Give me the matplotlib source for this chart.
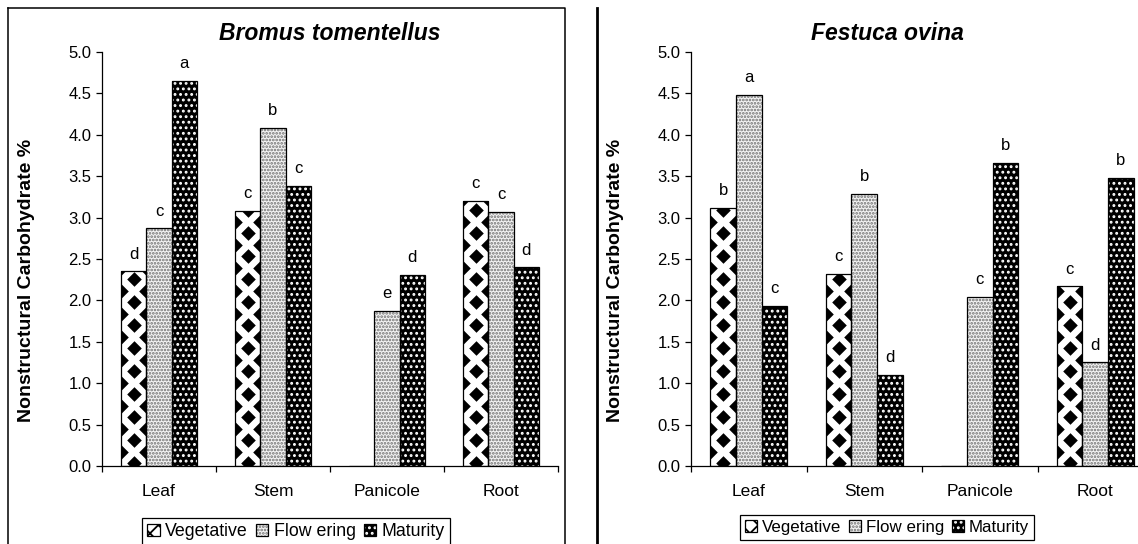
import numpy as np
import matplotlib
matplotlib.use("Agg")
import matplotlib.pyplot as plt
from matplotlib.path import Path
from matplotlib.patches import Patch
from matplotlib.lines import Line2D
from matplotlib.legend_handler import HandlerTuple


# === DATA ===
categories = ['Leaf', 'Stem', 'Panicole', 'Root']
stages = ['Vegetative', 'Flow ering', 'Maturity']

bromus_veg = [2.35, 3.08, 0.0, 3.20]
bromus_flow = [2.87, 4.08, 1.87, 3.07]
bromus_mat = [4.65, 3.38, 2.31, 2.40]
bromus_veg_sig = ['d', 'c', '', 'c']
bromus_flow_sig = ['c', 'b', 'e', 'c']
bromus_mat_sig = ['a', 'c', 'd', 'd']

festuca_veg = [3.12, 2.32, 0.0, 2.17]
festuca_flow = [4.48, 3.29, 2.04, 1.25]
festuca_mat = [1.93, 1.10, 3.66, 3.48]
festuca_veg_sig = ['b', 'c', '', 'c']
festuca_flow_sig = ['a', 'b', 'c', 'd']
festuca_mat_sig = ['c', 'd', 'b', 'b']

y_ticks = [0.0, 0.5, 1.0, 1.5, 2.0, 2.5, 3.0, 3.5, 4.0, 4.5, 5.0]

# === STYLE ===
FONT = 'Liberation Sans'
plt.rcParams['font.family'] = [FONT, 'DejaVu Sans']
plt.rcParams['hatch.linewidth'] = 1.3

BAR_W = 1 / 4.5
DIAMOND = Path([(0, 1), (1, 0), (0, -1), (-1, 0), (0, 1)],
               [Path.MOVETO, Path.LINETO, Path.LINETO, Path.LINETO, Path.CLOSEPOLY])
PITCH = 0.278      # vertical repeat of the diamond pattern (data units)

# fill style per stage: (face, hatch, hatch colour)
STAGE_STYLE = [
    ('white', None, 'white'),
    ('#f4f4f4', '.....', '#707070'),
    ('black', '...', 'white'),
]


def diamond_fill(ax, rect, x0, w, top):
    # checker of black diamonds inside a vegetative bar, clipped to it
    rows = np.arange(0, top + PITCH, PITCH)
    xs = np.concatenate([np.full(rows.size, x0 + w / 2),
                         np.full(rows.size, x0), np.full(rows.size, x0 + w)])
    ys = np.concatenate([rows + 0.12 * PITCH, rows + 0.62 * PITCH, rows + 0.62 * PITCH])
    ln, = ax.plot(xs, ys, ls='none', marker=DIAMOND, ms=10.5, mew=0,
                  color='black', zorder=2)
    ln.set_clip_path(rect)


def draw_panel(ax, series, letters):
    x = np.arange(len(categories))
    handles = []
    for i, (vals, sig) in enumerate(zip(series, letters)):
        face, hatch, hcol = STAGE_STYLE[i]
        pos = x + (i - 1) * BAR_W
        fill = ax.bar(pos, vals, BAR_W, color=face, edgecolor=hcol, hatch=hatch,
                      linewidth=0, zorder=1)
        outline = ax.bar(pos, vals, BAR_W, fill=False, edgecolor='black',
                         linewidth=0.9, zorder=3)
        if i == 0:
            for rect, v in zip(fill.patches, vals):
                if v > 0:
                    diamond_fill(ax, rect, rect.get_x(), rect.get_width(), v)
        for p, v, s in zip(pos, vals, sig):
            if s:
                ax.annotate(s, (p, v), xytext=(0, 7), textcoords='offset points',
                            ha='center', va='bottom', fontsize=12)
        handles.append((fill.patches[0], outline.patches[0]))

    ax.set_xlim(-0.5, len(categories) - 0.5)
    ax.set_ylim(0, 5)
    ax.set_yticks(y_ticks)
    ax.set_yticklabels([f'{t:.1f}' for t in y_ticks], fontsize=12)
    ax.set_xticks(np.arange(len(categories) + 1) - 0.5)
    ax.set_xticklabels([])
    ax.set_xticks(x, minor=True)
    ax.set_xticklabels(categories, minor=True, fontsize=12.5)
    ax.tick_params(axis='x', which='minor', length=0, pad=13)
    ax.tick_params(axis='both', which='major', direction='out', length=4, width=0.9)
    for side in ['top', 'right']:
        ax.spines[side].set_visible(False)
    for side in ['left', 'bottom']:
        ax.spines[side].set_linewidth(0.9)
    return handles


fig = plt.figure(figsize=(11.38, 5.44), dpi=100)

ax1 = fig.add_axes([0.0896, 0.1434, 0.4007, 0.761])
ax2 = fig.add_axes([0.6072, 0.1434, 0.406, 0.761])

h1 = draw_panel(ax1, [bromus_veg, bromus_flow, bromus_mat],
                [bromus_veg_sig, bromus_flow_sig, bromus_mat_sig])
h2 = draw_panel(ax2, [festuca_veg, festuca_flow, festuca_mat],
                [festuca_veg_sig, festuca_flow_sig, festuca_mat_sig])

fig.text(0.29, 0.939, 'Bromus tomentellus', ha='center', va='center',
         fontsize=16.5, fontweight='bold', fontstyle='italic')
fig.text(0.780, 0.939, 'Festuca ovina', ha='center', va='center',
         fontsize=16.5, fontweight='bold', fontstyle='italic')

for xc in [0.023, 0.541]:
    fig.text(xc, 0.485, 'Nonstructural Carbohydrate %', rotation=90,
             ha='center', va='center', fontsize=14, fontweight='bold')

# legends
veg_handle = Patch(facecolor='white', edgecolor='black', hatch='xx', linewidth=0.9)
for h, anchor, fs in [(h1, (0.1248, 0.0478), 12.8), (h2, (0.6503, 0.0533), 12.2)]:
    leg = fig.legend([veg_handle, h[1], h[2]], stages, loc='upper left',
                     bbox_to_anchor=anchor, ncol=3, fontsize=fs, frameon=True,
                     fancybox=False, edgecolor='black', framealpha=1,
                     handlelength=0.7, handleheight=0.7, handletextpad=0.3,
                     columnspacing=0.45, borderpad=0.3, borderaxespad=0,
                     handler_map={tuple: HandlerTuple(ndivide=1)})
    leg.get_frame().set_linewidth(0.9)

# panel frames
fig.add_artist(Line2D([0.00703, 0.4965, 0.4965], [0.9853, 0.9853, 0.0],
                      color='black', lw=1.1))
fig.add_artist(Line2D([0.00703, 0.00703], [0.9853, 0.0], color='black', lw=1.1))
fig.add_artist(Line2D([0.5246, 0.5246], [0.9853, 0.0], color='black', lw=2))

fig.savefig('out.png', dpi=100)
